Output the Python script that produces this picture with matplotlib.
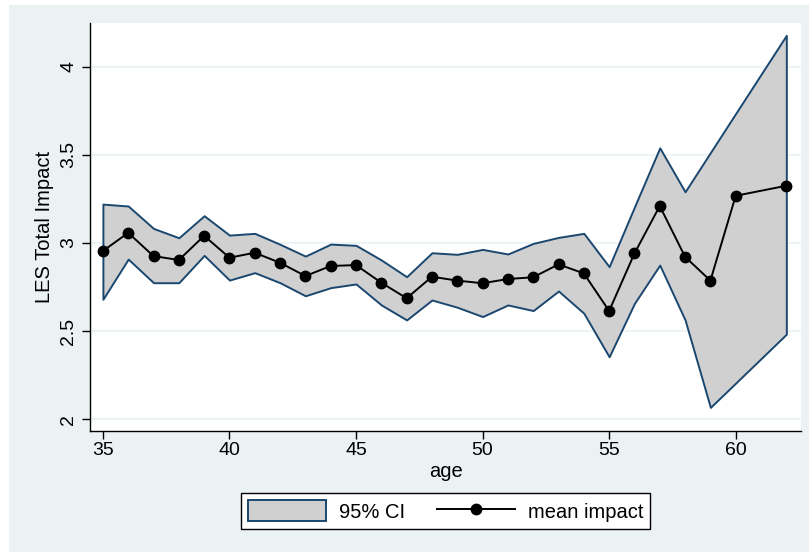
import matplotlib.pyplot as plt
from matplotlib.patches import Rectangle, Patch
from matplotlib.lines import Line2D

plt.rcParams['font.family'] = ['Liberation Sans', 'DejaVu Sans']

# Values
age = [35, 36, 37, 38, 39, 40, 41, 42, 43, 44, 45, 46, 47, 48, 49,
       50, 51, 52, 53, 54, 55, 56, 57, 58, 59, 60, 62]
mean_impact = [2.955, 3.058, 2.926, 2.904, 3.041, 2.917, 2.945, 2.888, 2.813,
               2.870, 2.875, 2.775, 2.687, 2.809, 2.787, 2.772, 2.796, 2.806,
               2.879, 2.828, 2.615, 2.941, 3.210, 2.922, 2.787, 3.268, 3.325]
ci_upper = [3.221, 3.210, 3.083, 3.030, 3.155, 3.045, 3.055, 2.993, 2.926,
            2.994, 2.987, 2.904, 2.809, 2.945, 2.936, 2.964, 2.938, 2.998,
            3.032, 3.055, 2.866, 3.205, 3.540, 3.291, 3.513, 3.735, 4.178]
ci_lower = [2.681, 2.909, 2.775, 2.775, 2.930, 2.790, 2.832, 2.775, 2.701,
            2.747, 2.768, 2.649, 2.564, 2.677, 2.636, 2.583, 2.649, 2.617,
            2.728, 2.602, 2.355, 2.658, 2.875, 2.564, 2.068, 2.206, 2.483]

x_ticks = [35, 40, 45, 50, 55, 60]
y_ticks = [2, 2.5, 3, 3.5, 4]
y_labels = ["2", "2.5", "3", "3.5", "4"]

bg = "#EAF2F3"
navy = "#1A476F"
W, H = 809, 552

fig = plt.figure(figsize=(W / 100, H / 100), dpi=100, facecolor="white")
# Stata-style outer graph region
fig.patches.append(Rectangle((9 / W, 0), 1 - 9 / W, 1 - 5 / H,
                             transform=fig.transFigure, facecolor=bg,
                             edgecolor="none", zorder=-10))

ax = fig.add_axes([90 / W, 1 - 431 / H, (801 - 90) / W, (431 - 23) / H])
ax.set_facecolor("white")

ax.fill_between(age, ci_lower, ci_upper, facecolor="#D0D0D0",
                edgecolor=navy, linewidth=1.4, zorder=2)
ax.plot(age, mean_impact, color="black", linewidth=1.4, marker="o",
        markersize=7.5, zorder=3)

ax.set_xlim(34.49, 62.58)
ax.set_ylim(1.934, 4.248)

ax.set_xticks(x_ticks)
ax.set_yticks(y_ticks)
ax.set_yticklabels(y_labels, rotation=90, va="center")
ax.tick_params(axis="both", labelsize=14, length=6, width=1, color="black",
               direction="out")
ax.tick_params(axis="x", pad=2)
ax.tick_params(axis="y", pad=3)
ax.grid(axis="y", color=bg, linewidth=1.2, zorder=0)
ax.set_axisbelow(True)

for s in ["top", "right"]:
    ax.spines[s].set_visible(False)
for s in ["left", "bottom"]:
    ax.spines[s].set_linewidth(1)
    ax.spines[s].set_color("black")

ax.set_xlabel("age", fontsize=14.5, labelpad=2)
ax.set_ylabel("LES Total Impact", fontsize=14.5, labelpad=5)

handles = [
    Patch(facecolor="#D0D0D0", edgecolor=navy, linewidth=1.4),
    Line2D([0], [0], color="black", linewidth=1.4, marker="o", markersize=7.5),
]
leg = fig.legend(handles, ["95% CI", "mean impact"], loc="center",
                 bbox_to_anchor=(445.5 / W, 1 - 511 / H), ncol=2,
                 fontsize=14.5, frameon=True, fancybox=False, edgecolor="black",
                 framealpha=1, handlelength=3.9, handleheight=1.2,
                 columnspacing=1.6, borderpad=0.35, handletextpad=0.6)
leg.get_frame().set_linewidth(1)

fig.savefig("out.png", dpi=100, facecolor="white")
